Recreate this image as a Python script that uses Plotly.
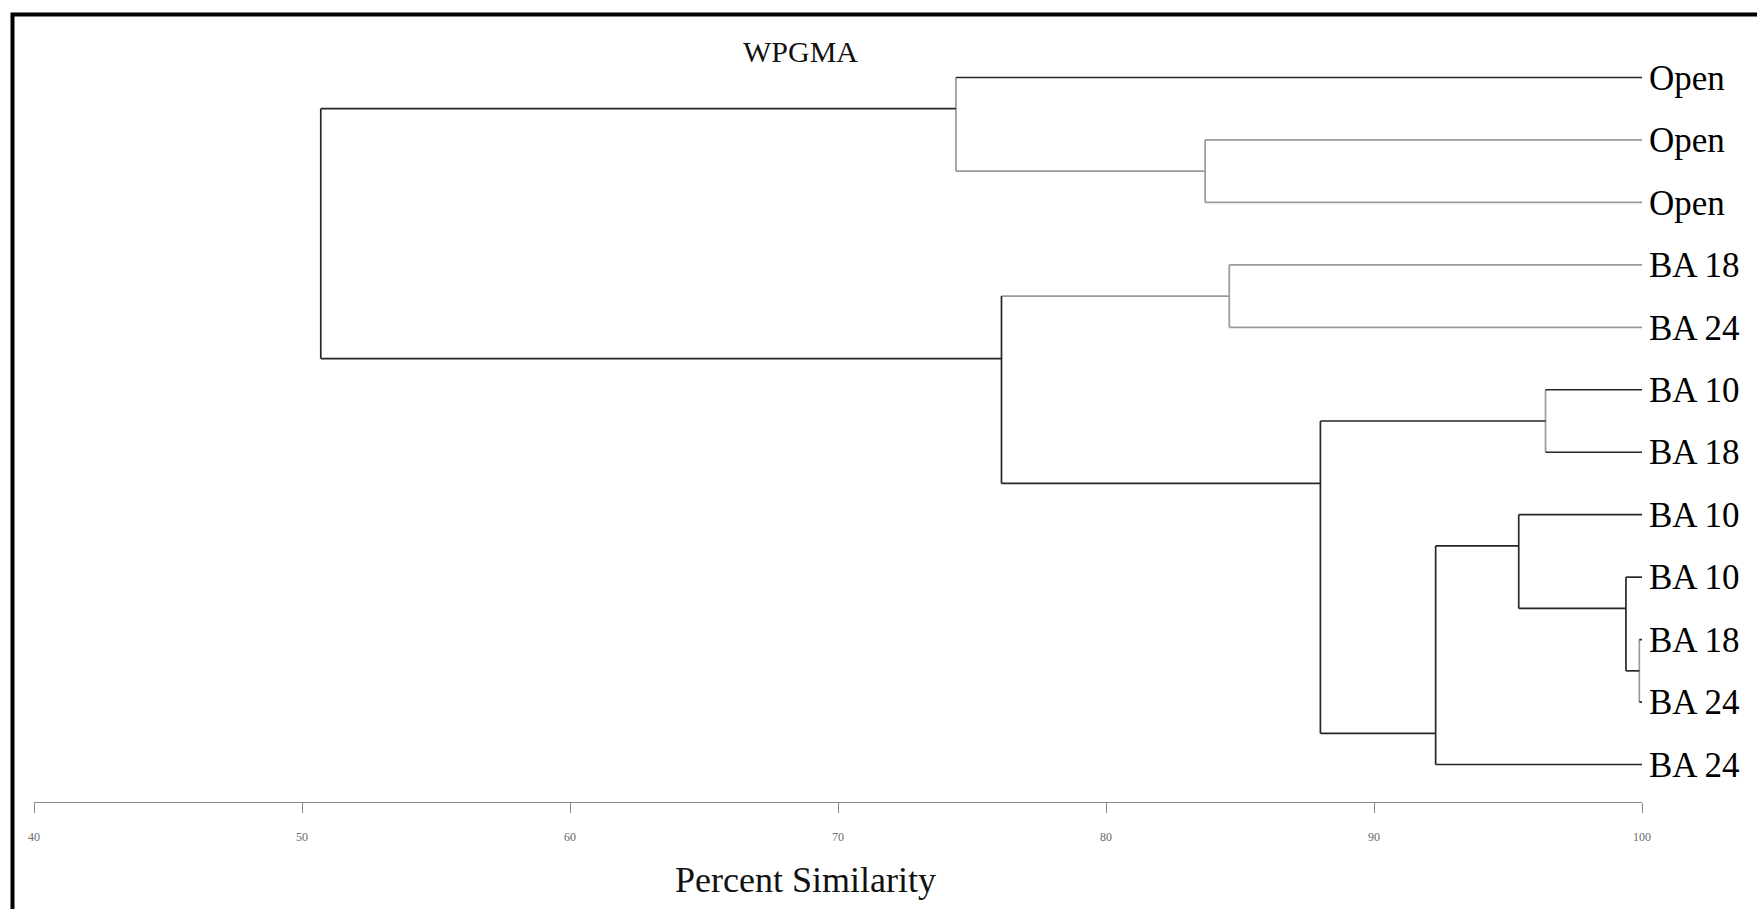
import plotly.graph_objects as go

# ---------------- data ----------------
leaf_labels = ["Open", "Open", "Open", "BA 18", "BA 24", "BA 10", "BA 18",
               "BA 10", "BA 10", "BA 18", "BA 24", "BA 24"]
# merges (WPGMA linkage): node ids 0-11 are leaves, 12+ are merged clusters
merge_a = [9, 8, 5, 7, 15, 14, 3, 1, 18, 0, 21]
merge_b = [10, 12, 6, 13, 11, 16, 4, 2, 17, 19, 20]
merge_sim = [99.9, 99.4, 96.4, 95.4, 92.3, 88.0, 84.6, 83.7, 76.1, 74.4, 50.7]
leaf_sim = 100.0
x_ticks = [40, 50, 60, 70, 80, 90, 100]

# line shades per merge (vertical, branch a, branch b)
shade_v = ["g", "d", "g", "d", "d", "d", "g", "g", "d", "g", "d"]
shade_a = ["d", "d", "d", "d", "d", "d", "g", "g", "g", "d", "d"]
shade_b = ["d", "d", "d", "d", "d", "d", "g", "g", "d", "g", "d"]

# ---------------- build dendrogram segments ----------------
n_leaves = len(leaf_labels)
leaves_of = {i: [i] for i in range(n_leaves)}
node_x = {i: leaf_sim for i in range(n_leaves)}
node_y = {i: float(i) for i in range(n_leaves)}

segs = {"d": ([], []), "g": ([], [])}


def add(shade, xs, ys):
    sx, sy = segs[shade]
    sx.extend(xs + [None])
    sy.extend(ys + [None])


for k, (a, b, s) in enumerate(zip(merge_a, merge_b, merge_sim)):
    nid = n_leaves + k
    la, lb = sorted(leaves_of[a]), sorted(leaves_of[b])
    leaves_of[nid] = la + lb
    node_x[nid] = s
    node_y[nid] = (la[-1] + lb[0]) / 2.0
    add(shade_v[k], [s, s], [node_y[a], node_y[b]])
    add(shade_a[k], [s, node_x[a]], [node_y[a], node_y[a]])
    add(shade_b[k], [s, node_x[b]], [node_y[b], node_y[b]])

fig = go.Figure()
fig.add_trace(go.Scatter(x=segs["g"][0], y=segs["g"][1], mode="lines",
                         line=dict(color="#9a9a9a", width=1.7),
                         hoverinfo="skip", showlegend=False))
fig.add_trace(go.Scatter(x=segs["d"][0], y=segs["d"][1], mode="lines",
                         line=dict(color="#262626", width=1.7),
                         hoverinfo="skip", showlegend=False))

FONT = "Liberation Serif, Times New Roman, serif"

fig.update_layout(
    width=1757, height=909,
    margin=dict(l=34, r=115, t=40, b=107),
    paper_bgcolor="white", plot_bgcolor="white",
    font=dict(family=FONT, color="black"),
    xaxis=dict(range=[40, 100], tickvals=x_ticks, ticktext=[str(v) for v in x_ticks],
               showgrid=False, zeroline=False, showline=True, linecolor="#8c8c8c",
               linewidth=1, ticks="outside", ticklen=10, tickcolor="#8c8c8c",
               tickwidth=1, ticklabelstandoff=14,
               tickfont=dict(size=12, color="#6a6a6a", family=FONT),
               fixedrange=True),
    yaxis=dict(range=[11.6, -0.6], side="right", tickvals=list(range(n_leaves)),
               ticktext=leaf_labels, showgrid=False, zeroline=False,
               showline=False, ticks="", ticklabelstandoff=6,
               tickfont=dict(size=35, color="black", family=FONT),
               fixedrange=True),
    annotations=[
        dict(text="WPGMA", x=68.6, y=-0.42, xref="x", yref="y",
             showarrow=False, xanchor="center", yanchor="middle",
             font=dict(size=30, family=FONT, color="#111111")),
        dict(text="Percent Similarity", x=68.8, y=-0.103, xref="x", yref="paper",
             showarrow=False, xanchor="center", yanchor="middle",
             font=dict(size=36, family=FONT, color="#111111")),
    ],
    shapes=[
        dict(type="rect", xref="paper", yref="paper",
             x0=(12.5 - 34) / 1608, x1=1.3,
             y0=-0.3, y1=(802 - 14.5) / 762,
             line=dict(color="black", width=4), fillcolor="rgba(0,0,0,0)",
             layer="above"),
    ],
)

fig.write_html("out.html", config={"displayModeBar": False},
               post_script="document.body.style.margin='0';document.body.style.overflow='hidden';")
